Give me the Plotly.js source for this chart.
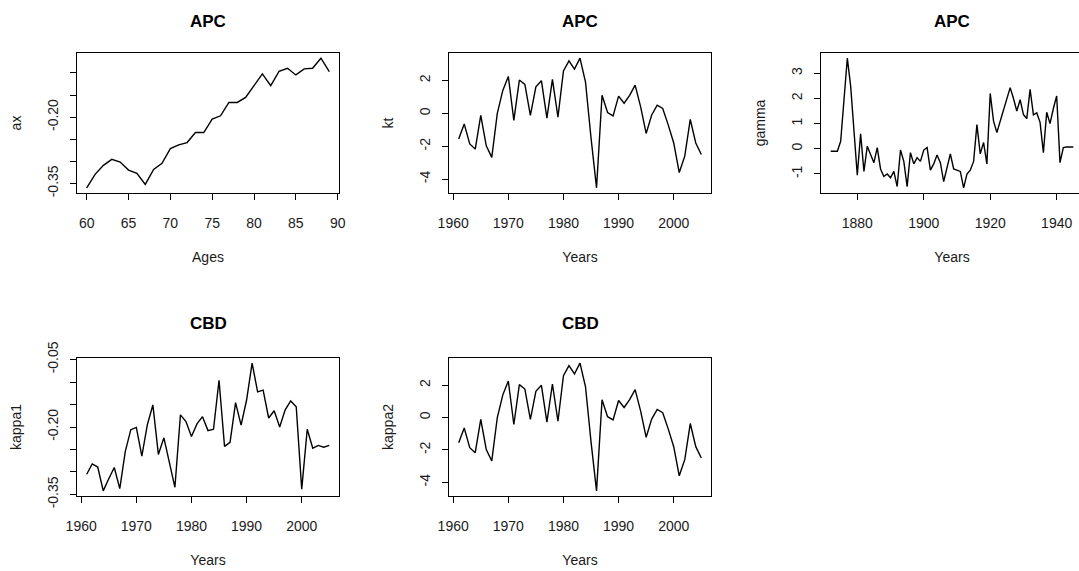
<!DOCTYPE html>
<html>
<head>
<meta charset="utf-8">
<script src="https://cdn.plot.ly/plotly-3.0.1.min.js"></script>
<style>
html,body{margin:0;padding:0;overflow:hidden;background:#fff;width:1079px;height:571px;}
#chart{width:1090px;height:571px;}
</style>
</head>
<body>
<div id="chart"></div>
<script>
// ---- data ----
const ages = [60,61,62,63,64,65,66,67,68,69,70,71,72,73,74,75,76,77,78,79,80,81,82,83,84,85,86,87,88,89];
const ax = [-0.3599,-0.3295,-0.3090,-0.2955,-0.3015,-0.3197,-0.3273,-0.3523,-0.3182,-0.3045,
            -0.2712,-0.2628,-0.2575,-0.2348,-0.2348,-0.2045,-0.1969,-0.1667,-0.1667,-0.1552,
            -0.1287,-0.1021,-0.1287,-0.0961,-0.0893,-0.1044,-0.0908,-0.0893,-0.0665,-0.0968];

const years = [1961,1962,1963,1964,1965,1966,1967,1968,1969,1970,1971,1972,1973,1974,1975,
               1976,1977,1978,1979,1980,1981,1982,1983,1984,1985,1986,1987,1988,1989,1990,
               1991,1992,1993,1994,1995,1996,1997,1998,1999,2000,2001,2002,2003,2004,2005];
const kt = [-1.56,-0.64,-1.86,-2.17,-0.12,-1.97,-2.68,0.0,1.4,2.25,-0.43,2.03,1.76,-0.12,1.62,
            1.99,-0.29,2.07,-0.23,2.58,3.2,2.7,3.36,1.9,-1.5,-4.53,1.1,0.05,-0.15,1.05,
            0.62,1.1,1.72,0.4,-1.22,-0.1,0.5,0.3,-0.7,-1.8,-3.6,-2.6,-0.37,-1.8,-2.5];

const cohorts = [1872,1873,1874,1875,1876,1877,1878,1879,1880,1881,1882,1883,1884,1885,1886,
                 1887,1888,1889,1890,1891,1892,1893,1894,1895,1896,1897,1898,1899,1900,1901,
                 1902,1903,1904,1905,1906,1907,1908,1909,1910,1911,1912,1913,1914,1915,1916,
                 1917,1918,1919,1920,1921,1922,1923,1924,1925,1926,1927,1928,1929,1930,1931,
                 1932,1933,1934,1935,1936,1937,1938,1939,1940,1941,1942,1943,1944,1945];
const gamma = [-0.1,-0.1,-0.1,0.3,1.9,3.6,2.5,0.9,-1.05,0.6,-0.9,0.1,-0.2,-0.55,0.05,
               -0.8,-1.1,-1.0,-1.15,-0.9,-1.5,-0.05,-0.5,-1.5,-0.15,-0.6,-0.35,-0.5,-0.05,0.05,
               -0.85,-0.6,-0.25,-0.55,-1.3,-0.75,-0.2,-0.8,-0.85,-0.9,-1.55,-1.0,-0.85,-0.5,0.96,
               -0.2,0.25,-0.6,2.2,1.1,0.65,1.09,1.49,1.89,2.43,2.0,1.5,1.95,1.36,1.2,
               2.36,1.35,1.43,1.05,-0.15,1.45,1.0,1.6,2.1,-0.55,0.05,0.07,0.07,0.07];

const kappa1 = [-0.305,-0.282,-0.289,-0.342,-0.315,-0.290,-0.337,-0.254,-0.206,-0.201,
                -0.265,-0.195,-0.151,-0.261,-0.224,-0.276,-0.334,-0.173,-0.188,-0.221,
                -0.193,-0.177,-0.208,-0.205,-0.096,-0.243,-0.234,-0.146,-0.196,-0.140,
                -0.058,-0.122,-0.118,-0.180,-0.164,-0.200,-0.162,-0.142,-0.155,-0.338,
                -0.205,-0.247,-0.241,-0.245,-0.241];
const kappa2 = kt.slice();

const ageTicks = [60,65,70,75,80,85,90];
const yearTicks = [1960,1970,1980,1990,2000];
const cohortTicks = [1880,1900,1920,1940];
const axTicks = [-0.35,-0.30,-0.25,-0.20,-0.15,-0.10];
const axTickText = ['-0.35','','','-0.20','',''];
const ktTicks = [-4,-2,0,2];
const gammaTicks = [-1,0,1,2,3];
const gammaTickText = ['-1','0','1','2','3'];
const k1Ticks = [-0.35,-0.30,-0.25,-0.20,-0.15,-0.10,-0.05];
const k1TickText = ['-0.35','','','-0.20','','','-0.05'];

// ---- helpers ----
function rng(a){ // R-style 4% padding
  const mn = Math.min(...a), mx = Math.max(...a), p = (mx-mn)*0.04;
  return [mn-p, mx+p];
}
const W = 1090, H = 571;
const FONT = '"Liberation Sans", Arial, Helvetica, sans-serif';
function dx(a,b){ return [a/W, b/W]; }
function dy(top,bot){ return [1-bot/H, 1-top/H]; }

function xa(dom, r, tv, title){
  return {domain: dom, range: r, tickvals: tv, showline: true, mirror: true, linecolor: '#000', linewidth: 1,
          ticks: 'outside', ticklen: 6, tickcolor: '#000', tickwidth: 1, showgrid: false, zeroline: false,
          tickfont: {family: FONT, size: 14, color: '#1a1a1a'}, ticklabelstandoff: 11,
          title: {text: title, font: {family: FONT, size: 14, color: '#1a1a1a'}, standoff: 22}};
}
function ya(dom, r, tv, tt, title){
  return {domain: dom, range: r, tickvals: tv, ticktext: tt, tickangle: -90, showline: true, mirror: true,
          linecolor: '#000', linewidth: 1, ticks: 'outside', ticklen: 6, tickcolor: '#000', tickwidth: 1,
          showgrid: false, zeroline: false, ticklabelstandoff: 6,
          tickfont: {family: FONT, size: 14, color: '#1a1a1a'},
          title: {text: title, font: {family: FONT, size: 14, color: '#1a1a1a'}, standoff: 20}};
}

const line = {color: '#000', width: 1.4};
const traces = [
  {x: ages, y: ax, xaxis: 'x', yaxis: 'y', mode: 'lines', line: line},
  {x: years, y: kt, xaxis: 'x2', yaxis: 'y2', mode: 'lines', line: line},
  {x: cohorts, y: gamma, xaxis: 'x3', yaxis: 'y3', mode: 'lines', line: line},
  {x: years, y: kappa1, xaxis: 'x4', yaxis: 'y4', mode: 'lines', line: line},
  {x: years, y: kappa2, xaxis: 'x5', yaxis: 'y5', mode: 'lines', line: line}
];

const row1 = dy(53,193), row2 = dy(358,496);
const c1 = dx(77,339), c2 = dx(449,711), c3 = dx(821,1083);

function ttl(text, xr, yr, shift){
  return {text: '<b>'+text+'</b>', xref: xr+' domain', yref: yr+' domain', x: 0.5, y: 1, yshift: shift,
          showarrow: false, xanchor: 'center', yanchor: 'middle', font: {family: FONT, size: 17, color: '#000'}};
}

const layout = {
  width: W, height: H, margin: {l:0, r:0, t:0, b:0}, showlegend: false,
  paper_bgcolor: '#fff', plot_bgcolor: '#fff',
  xaxis: xa(c1, rng(ages), ageTicks, 'Ages'),
  yaxis: ya(row1, rng(ax), axTicks, axTickText, 'ax'),
  xaxis2: xa(c2, rng(years), yearTicks, 'Years'),
  yaxis2: ya(row1, rng(kt), ktTicks, ktTicks.map(String), 'kt'),
  xaxis3: xa(c3, rng(cohorts), cohortTicks, 'Years'),
  yaxis3: ya(row1, rng(gamma), gammaTicks, gammaTickText, 'gamma'),
  xaxis4: xa(c1, rng(years), yearTicks, 'Years'),
  yaxis4: ya(row2, rng(kappa1), k1Ticks, k1TickText, 'kappa1'),
  xaxis5: xa(c2, rng(years), yearTicks, 'Years'),
  yaxis5: ya(row2, rng(kappa2), ktTicks, ktTicks.map(String), 'kappa2'),
  annotations: [
    ttl('APC','x','y',32), ttl('APC','x2','y2',32), ttl('APC','x3','y3',32),
    ttl('CBD','x4','y4',35), ttl('CBD','x5','y5',35)
  ]
};
['xaxis','xaxis2','xaxis3','xaxis4','xaxis5'].forEach((k,i)=>{ layout[k].anchor = 'y'+(i? i+1 : ''); });
['yaxis','yaxis2','yaxis3','yaxis4','yaxis5'].forEach((k,i)=>{ layout[k].anchor = 'x'+(i? i+1 : ''); });

Plotly.newPlot('chart', traces, layout, {displayModeBar: false, staticPlot: true});
</script>
</body>
</html>
